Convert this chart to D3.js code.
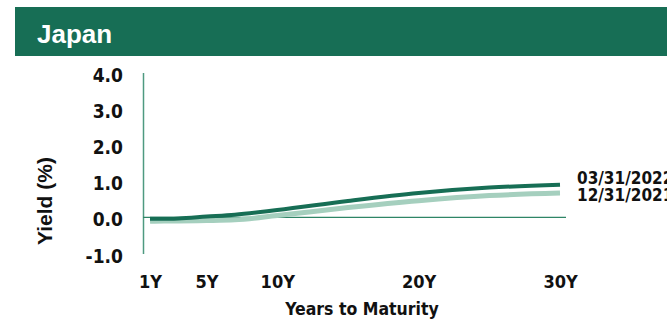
<!DOCTYPE html>
<html><head><meta charset="utf-8">
<script src="https://cdn.jsdelivr.net/npm/d3@7"></script>
<style>
html,body{margin:0;padding:0;background:#fff;}
svg{display:block;}
.cg{font-family:'DejaVu Sans Condensed','DejaVu Sans',sans-serif;font-stretch:condensed;font-weight:bold;fill:#111;}
</style></head>
<body>
<svg id="chart" width="667" height="320"></svg>
<script>
const title = "Japan";
const maturities = [1, 2, 3, 5, 7, 10, 15, 20, 25, 30];
const seriesNames = ["12/31/2021", "03/31/2022"];
const yieldsDec2021 = [-0.11, -0.10, -0.10, -0.09, -0.07, 0.05, 0.27, 0.46, 0.60, 0.67];
const yieldsMar2022 = [-0.04, -0.04, -0.03, 0.02, 0.07, 0.20, 0.45, 0.67, 0.82, 0.90];
const xTickValues = [1, 5, 10, 20, 30];
const xTickLabels = ["1Y", "5Y", "10Y", "20Y", "30Y"];
const yTickValues = [-1, 0, 1, 2, 3, 4];
const yLabel = "Yield (%)";
const xLabel = "Years to Maturity";

const svg = d3.select("#chart");
const dark = "#176e55", light = "#a5cfbe", axisCol = "#4e9a80";

// header banner
svg.append("rect").attr("x", 15).attr("y", 7).attr("width", 652).attr("height", 49).attr("fill", "#176e55");
svg.append("text").attr("x", 37).attr("y", 43).text(title)
  .attr("fill", "#fff").attr("font-family", "'Liberation Sans', Arial, sans-serif")
  .attr("font-weight", "bold").attr("font-size", 26);

const x = d3.scaleLinear().domain([1, 30]).range([150, 560]);
const y = d3.scaleLinear().domain([-1, 4]).range([253.5, 72.5]);

// y axis
const yAxis = d3.axisLeft(y).tickValues(yTickValues).tickSize(0).tickPadding(20)
  .tickFormat(d => d3.format(".1f")(d).replace("\u2212", "-"));
const gy = svg.append("g").attr("transform", "translate(143,0)").call(yAxis);
gy.select(".domain").remove();
gy.selectAll("text").attr("class", "cg").attr("font-size", 19).attr("dy", "0.45em");
svg.append("line").attr("x1", 143.5).attr("x2", 143.5).attr("y1", 73).attr("y2", 254)
  .attr("stroke", axisCol).attr("stroke-width", 1.5);

// zero line
svg.append("line").attr("x1", 143).attr("x2", 566).attr("y1", y(0)).attr("y2", y(0))
  .attr("stroke", "#2e8566").attr("stroke-width", 1.3);

// x axis labels
const xAxis = d3.axisBottom(x).tickValues(xTickValues).tickSize(0).tickPadding(0)
  .tickFormat((d, i) => xTickLabels[i]);
const gx = svg.append("g").attr("transform", "translate(0,274)").call(xAxis);
gx.select(".domain").remove();
gx.selectAll("text").attr("class", "cg").attr("font-size", 18).attr("dy", "0.78em");

// axis titles
svg.append("text").attr("class", "cg").attr("x", 362).attr("y", 315).attr("text-anchor", "middle")
  .text(xLabel).attr("font-size", 17.5);
svg.append("text").attr("transform", "translate(52,201) rotate(-90)").attr("text-anchor", "middle")
  .text(yLabel).attr("font-family", "'Liberation Sans', Arial, sans-serif")
  .attr("font-weight", "bold").attr("font-size", 21).attr("fill", "#111");

// lines
const line = d3.line().x((d, i) => x(maturities[i])).y(d => y(d)).curve(d3.curveMonotoneX);
svg.append("path").datum(yieldsDec2021).attr("d", line).attr("fill", "none")
  .attr("stroke", light).attr("stroke-width", 5);
svg.append("path").datum(yieldsMar2022).attr("d", line).attr("fill", "none")
  .attr("stroke", dark).attr("stroke-width", 4);

// end labels
svg.append("text").attr("class", "cg").attr("x", 577).attr("y", 184).text(seriesNames[1]).attr("font-size", 17);
svg.append("text").attr("class", "cg").attr("x", 577).attr("y", 201).text(seriesNames[0]).attr("font-size", 17);
</script>
</body></html>
